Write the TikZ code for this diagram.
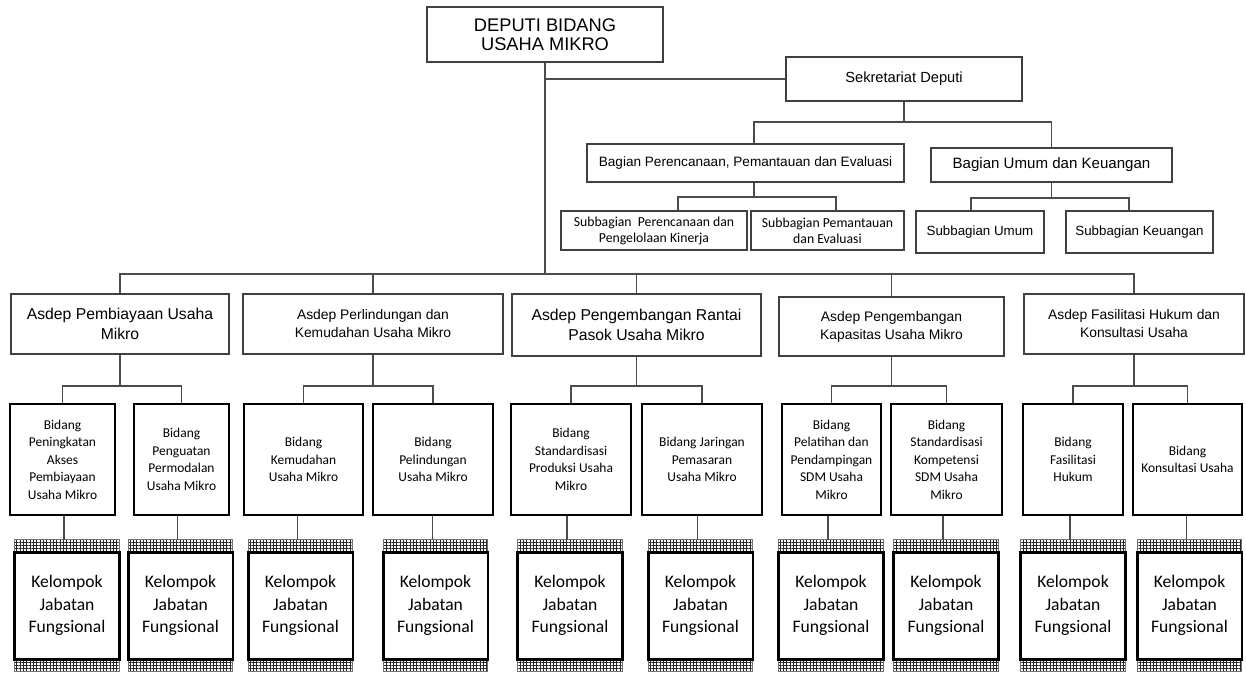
\documentclass[tikz,border=0pt]{standalone}
\usepackage{fontspec}
\setmainfont{Liberation Sans}
\newfontfamily\calibri{Carlito}
\usetikzlibrary{calc,patterns.meta}

% Box given by its pixel corners: [style]{name}{x1}{y1}{x2}{y2}{text}
\newcommand{\pxbox}[7][]{%
  \pgfmathsetmacro\pxboxw{((#5)-(#3))*0.75}%
  \pgfmathsetmacro\pxboxh{((#6)-(#4))*0.75}%
  \pgfmathsetmacro\pxboxx{((#3)+(#5))/2}%
  \pgfmathsetmacro\pxboxy{((#4)+(#6))/2}%
  \node[#1, minimum width=\pxboxw pt, minimum height=\pxboxh pt]
    (#2) at (\pxboxx,\pxboxy) {#7};%
}

% Kelompok Jabatan Fungsional block: #1 name, #2 centre x, #3 parent Bidang node
\newcommand{\kelompokbox}[3]{%
  \pxbox[kel]{#1}{#2-52}{540}{#2+52}{671}{Kelompok\\Jabatan\\Fungsional}
  \draw[band] (#1.north west) rectangle ($(#1.north east)+(0,13)$);
  \draw[band] ($(#1.south west)+(0,-12)$) rectangle (#1.south east);
  \draw[kelframe] ($(#1.north west)+(0,13)$) rectangle ($(#1.south east)+(0,-12)$);
  \draw[conn] ([xshift=-2.25pt]#1.north) -- ([xshift=-2.25pt]#1.north |- #3.south);
}

\begin{document}
\begin{tikzpicture}[x=0.75pt,y=-0.75pt,
  conn/.style={draw=black!70,line width=0.8pt},
  plainbox/.style={draw=black!75,line width=0.8pt,inner sep=0pt,align=center},
  bidbox/.style={draw=black,line width=1.9pt,inner sep=0pt,align=center,
    font=\calibri\fontsize{10.1}{13.1}\selectfont},
  kel/.style={inner sep=0pt,align=center,font=\calibri\fontsize{13.2}{16.9}\selectfont},
  band/.style={draw=black!55,line width=0.5pt,
    pattern={Hatch[angle=0,distance=2.5pt,line width=0.4pt]},pattern color=black!85},
  kelframe/.style={draw=black,line width=1.9pt},
  bigfont/.style={plainbox,font=\fontsize{11.8}{15}\selectfont},
  smallfont/.style={plainbox,font=\fontsize{10.4}{13.5}\selectfont},
]
\useasboundingbox (0,0) rectangle (1246,672);

% ---------- top level ----------
\pxbox[plainbox, font=\fontsize{13.7}{14}\selectfont]{dep}{427}{7}{663}{62}
  {DEPUTI BIDANG\\USAHA MIKRO}
\pxbox[plainbox, font=\fontsize{11}{13}\selectfont]{sek}{786}{57}{1022}{101}
  {Sekretariat Deputi}

% ---------- secretariat ----------
\pxbox[plainbox, font=\fontsize{10.2}{12}\selectfont]{bp}{587}{144}{904}{182}
  {Bagian Perencanaan, Pemantauan dan Evaluasi}
\pxbox[plainbox, font=\fontsize{11.3}{13}\selectfont]{bu}{931}{148}{1172}{182}
  {Bagian Umum dan Keuangan}

\pxbox[plainbox, font=\calibri\fontsize{10.3}{12}\selectfont]{s1}{561}{211}{747}{250}
  {Subbagian\ \ Perencanaan dan\\Pengelolaan Kinerja}
\pxbox[plainbox, font=\calibri\fontsize{10.3}{12}\selectfont]{s2}{751}{211}{904}{250}
  {Subbagian Pemantauan\\dan Evaluasi}
\pxbox[plainbox, font=\fontsize{10}{12}\selectfont]{s3}{916}{211}{1044}{253}
  {Subbagian Umum}
\pxbox[plainbox, font=\fontsize{10}{12}\selectfont]{s4}{1066}{211}{1213}{253}
  {Subbagian Keuangan}

% ---------- Asdep row ----------
\pxbox[bigfont]{a1}{11}{294}{229}{354}{Asdep Pembiayaan Usaha\\Mikro}
\pxbox[smallfont]{a2}{243}{294}{503}{354}{Asdep Perlindungan dan\\Kemudahan Usaha Mikro}
\pxbox[bigfont]{a3}{512}{294}{761}{356}{Asdep Pengembangan Rantai\\Pasok Usaha Mikro}
\pxbox[smallfont]{a4}{779}{297}{1004}{356}{Asdep Pengembangan\\Kapasitas Usaha Mikro}
\pxbox[smallfont]{a5}{1024}{294}{1244}{354}{Asdep Fasilitasi Hukum dan\\Konsultasi Usaha}

% ---------- Bidang row ----------
\pxbox[bidbox]{bA}{10}{404}{115}{515}{Bidang\\Peningkatan\\Akses\\Pembiayaan\\Usaha Mikro}
\pxbox[bidbox]{bB}{134}{404}{229}{515}{Bidang\\Penguatan\\Permodalan\\Usaha Mikro}
\pxbox[bidbox]{bC}{244}{404}{363}{515}{Bidang\\Kemudahan\\Usaha Mikro}
\pxbox[bidbox]{bD}{373}{404}{493}{515}{Bidang\\Pelindungan\\Usaha Mikro}
\pxbox[bidbox]{bE}{511}{404}{631}{515}{Bidang\\Standardisasi\\Produksi Usaha\\Mikro}
\pxbox[bidbox]{bF}{642}{404}{762}{515}{Bidang Jaringan\\Pemasaran\\Usaha Mikro}
\pxbox[bidbox]{bG}{782}{404}{881}{515}{Bidang\\Pelatihan dan\\Pendampingan\\SDM Usaha\\Mikro}
\pxbox[bidbox]{bH}{891}{404}{1002}{515}{Bidang\\Standardisasi\\Kompetensi\\SDM Usaha\\Mikro}
\pxbox[bidbox]{bI}{1023}{404}{1123}{515}{Bidang\\Fasilitasi\\Hukum}
\pxbox[bidbox]{bJ}{1133}{404}{1242}{515}{Bidang\\Konsultasi Usaha}

% ---------- connectors: top ----------
\coordinate (asbar) at (547,274);
\draw[conn] (dep.south) -- (dep.south |- asbar);
\draw[conn] (dep.south |- sek.west) -- (sek.west);

\coordinate (sekbar) at (904,122);
\coordinate (bpin) at (754,122);
\draw[conn] (sek.south) -- (sekbar);
\draw[conn] (bpin |- bp.north) -- (bpin) -- (sekbar) -| (bu.north);

\coordinate (bpbar) at (754,197);
\coordinate (s1in) at (678,197);
\coordinate (s2in) at (836,197);
\draw[conn] (bpbar |- bp.south) -- (bpbar);
\draw[conn] (s1in |- s1.north) -- (s1in) -- (s2in) -- (s2in |- s2.north);

\coordinate (s3in) at (971,198);
\coordinate (s4in) at (1129,198);
\draw[conn] (bu.south) -- (bu.south |- s3in);
\draw[conn] (s3in |- s3.north) -- (s3in) -- (s4in) -- (s4in |- s4.north);

% ---------- connectors: Asdep ----------
\draw[conn] (a1.north) |- (asbar) -| (a5.north);
\foreach \n in {a2,a3,a4} \draw[conn] (\n.north) -- (\n.north |- asbar);

% ---------- connectors: Bidang ----------
\coordinate (bidbar) at (0,386);
\foreach \p/\l/\r in {a1/bA/bB, a2/bC/bD, a3/bE/bF, a4/bG/bH, a5/bI/bJ}{
  \draw[conn] (\p.south) -- (\p.south |- bidbar);
  \draw[conn] (\l.north) -- (\l.north |- bidbar) -- (\r.north |- bidbar) -- (\r.north);
}

% ---------- Kelompok Jabatan Fungsional ----------
\kelompokbox{kA}{67}{bA}
\kelompokbox{kB}{180.5}{bB}
\kelompokbox{kC}{300.5}{bC}
\kelompokbox{kD}{435.5}{bD}
\kelompokbox{kE}{570}{bE}
\kelompokbox{kF}{700.5}{bF}
\kelompokbox{kG}{831}{bG}
\kelompokbox{kH}{946}{bH}
\kelompokbox{kI}{1073}{bI}
\kelompokbox{kJ}{1189.5}{bJ}
\end{tikzpicture}
\end{document}
